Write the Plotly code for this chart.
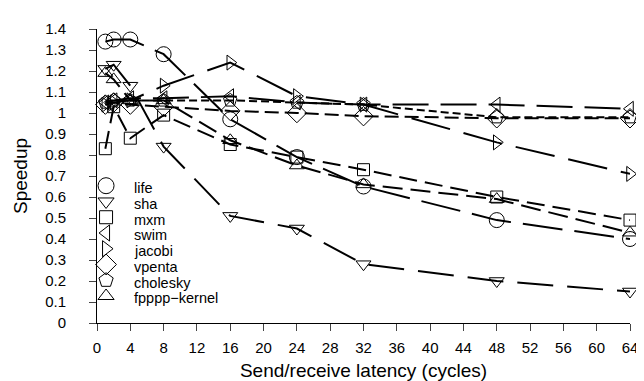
import plotly.graph_objects as go

# ---- data ----
latency = [1, 2, 4, 8, 16, 24, 32, 48, 64]
series_names = ["life", "sha", "mxm", "swim", "jacobi", "vpenta", "cholesky", "fpppp\u2212kernel"]
life = [1.34, 1.35, 1.35, 1.28, 0.97, 0.79, 0.65, 0.49, 0.40]
sha = [1.21, 1.23, 1.13, 0.84, 0.51, 0.45, 0.28, 0.20, 0.15]
mxm = [0.83, 1.03, 0.88, 0.99, 0.85, 0.79, 0.73, 0.60, 0.49]
swim = [1.05, 1.06, 1.07, 1.07, 1.08, 1.05, 1.04, 1.04, 1.02]
jacobi = [1.04, 1.05, 1.06, 1.13, 1.24, 1.08, 1.04, 0.86, 0.71]
vpenta = [1.04, 1.05, 1.04, 1.03, 1.01, 1.00, 0.985, 0.975, 0.975]
cholesky = [1.05, 1.06, 1.06, 1.06, 1.06, 1.05, 1.04, 0.98, 0.98]
fpppp_kernel = [1.19, 1.16, 1.06, 1.06, 0.87, 0.75, 0.66, 0.59, 0.43]
x_ticks = [0, 4, 8, 12, 16, 20, 24, 28, 32, 36, 40, 44, 48, 52, 56, 60, 64]
y_ticks = [0, 0.1, 0.2, 0.3, 0.4, 0.5, 0.6, 0.7, 0.8, 0.9, 1.0, 1.1, 1.2, 1.3, 1.4]
y_tick_labels = ["0", "0.1", "0.2", "0.3", "0.4", "0.5", "0.6", "0.7", "0.8", "0.9", "1", "1.1", "1.2", "1.3", "1.4"]

all_series = [life, sha, mxm, swim, jacobi, vpenta, cholesky, fpppp_kernel]
symbols = ["circle-open", "triangle-down-open", "square-open", "triangle-left-open",
           "triangle-right-open", "diamond-open", "pentagon-open", "triangle-up-open"]
sizes = [15, 13, 12, 13, 13, 15, 14, 13]
dashes = ["40px,12px", "36px,14px", "18px,8px", "36px,12px",
          "40px,14px", "14px,6px", "8px,4px", "20px,8px"]

FONT = "Liberation Sans, Arial, sans-serif"
fig = go.Figure()
for name, ys, sym, sz, dsh in zip(series_names, all_series, symbols, sizes, dashes):
    fig.add_trace(go.Scatter(
        x=latency, y=ys, name=name, mode="lines+markers",
        line=dict(color="black", width=2, dash=dsh),
        marker=dict(symbol=sym, size=sz, color="black", line=dict(color="black", width=1)),
        cliponaxis=False, showlegend=False,
    ))

# manual legend (overlay axis in 0..1 units)
leg_x = 0.017
leg_top = 0.459
leg_step = 0.0536
for i, (name, sym, sz) in enumerate(zip(series_names, symbols, sizes)):
    yy = leg_top - i * leg_step
    fig.add_trace(go.Scatter(
        x=[leg_x], y=[yy + 0.008], mode="markers", xaxis="x2", yaxis="y2",
        marker=dict(symbol=sym, size=sz + 1, color="black", line=dict(color="black", width=1)),
        showlegend=False, hoverinfo="skip", cliponaxis=False,
    ))
    fig.add_annotation(x=0.068, y=yy, xref="x2", yref="y2", text=name, showarrow=False,
                       xanchor="left", yanchor="middle", borderpad=0,
                       font=dict(size=14.5, family=FONT, color="black"))

fig.update_layout(
    width=644, height=381,
    margin=dict(l=89, r=22, t=12, b=65),
    paper_bgcolor="white", plot_bgcolor="white",
    font=dict(family=FONT, color="black", size=15),
    xaxis=dict(range=[0, 64], tickvals=x_ticks, ticks="outside", ticklen=7, tickwidth=1,
               ticklabelstandoff=4,
               showline=True, linecolor="black", linewidth=1, showgrid=False, zeroline=False,
               tickfont=dict(size=15), title=dict(text="Send/receive latency (cycles)",
               font=dict(size=19), standoff=8)),
    yaxis=dict(range=[0, 1.4], tickvals=y_ticks, ticktext=y_tick_labels, ticks="outside",
               ticklen=7, tickwidth=1, showline=True, linecolor="black", linewidth=1,
               ticklabelstandoff=20,
               showgrid=False, zeroline=False, tickfont=dict(size=15),
               title=dict(text="Speedup", font=dict(size=19), standoff=12)),
    xaxis2=dict(range=[0, 1], overlaying="x", visible=False),
    yaxis2=dict(range=[0, 1], overlaying="y", visible=False),
)

fig.write_html("out.html")
